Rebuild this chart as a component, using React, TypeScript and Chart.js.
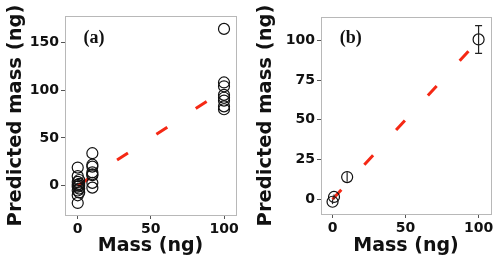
import React, { useEffect, useRef } from "react";
import { Chart, registerables } from "chart.js";

Chart.register(...registerables);

// ---- Data ----
const massA_x: number[] = [0, 0, 1, 0, 1, 0, 1, 0, 1, 0, 1, 0, 0, 10, 10, 10, 10, 10, 10, 10, 10, 100, 100, 100, 100, 100, 100, 100, 100];
const massA_y: number[] = [19, 10, 6, 4, 2, 1, 0, -1, -3, -5, -7, -10, -18, 34, 22, 20, 14, 12, 11, 3, -2, 164, 108, 104, 95, 92, 89, 83, 80];

const massB_x: number[] = [0, 1, 10, 100];
const massB_y: number[] = [-1.5, 1.5, 14, 100.5];
const massB_err: number[] = [1.5, 1.5, 3, 8.7];

const refLine_x: number[] = [0, 100];
const refLine_y: number[] = [0, 100];

const xTicks: number[] = [0, 50, 100];
const yTicksA: number[] = [0, 50, 100, 150];
const yTicksB: number[] = [0, 25, 50, 75, 100];

const panelLabels: string[] = ["(a)", "(b)"];

const TICK_FONT = { family: "'DejaVu Sans', sans-serif", size: 14, weight: "bold" as const };
const TITLE_FONT_X = { family: "'DejaVu Sans', sans-serif", size: 19, weight: "bold" as const };
const TITLE_FONT_Y = { family: "'DejaVu Sans', sans-serif", size: 19.5, weight: "bold" as const };

type PanelCfg = {
  xs: number[];
  ys: number[];
  errs?: number[];
  yTicks: number[];
  xMin: number; xMax: number; yMin: number; yMax: number;
  left: number; right: number; top: number; bottomH: number;
  label: string;
  labelFx: number; labelFy: number;
};

const framePlugin = {
  id: "frameAndExtras",
  afterDatasetsDraw(chart: any, _args: any, opts: any) {
    const { ctx, chartArea, scales } = chart;
    ctx.save();
    // error bars
    if (opts.errs) {
      ctx.strokeStyle = "#222";
      ctx.lineWidth = 1.2;
      const xs: number[] = opts.xs, ys: number[] = opts.ys, es: number[] = opts.errs;
      for (let i = 0; i < xs.length; i++) {
        const px = scales.x.getPixelForValue(xs[i]);
        const p1 = scales.y.getPixelForValue(ys[i] + es[i]);
        const p2 = scales.y.getPixelForValue(ys[i] - es[i]);
        ctx.beginPath();
        ctx.moveTo(px, p1); ctx.lineTo(px, p2);
        if (es[i] > 4) {
          ctx.moveTo(px - 3.5, p1); ctx.lineTo(px + 3.5, p1);
          ctx.moveTo(px - 3.5, p2); ctx.lineTo(px + 3.5, p2);
        }
        ctx.stroke();
      }
    }
    // frame
    ctx.strokeStyle = "#b8b8b8";
    ctx.lineWidth = 1;
    ctx.strokeRect(Math.round(chartArea.left) + 0.5, Math.round(chartArea.top) + 0.5,
      Math.round(chartArea.right - chartArea.left), Math.round(chartArea.bottom - chartArea.top));
    // panel label
    ctx.fillStyle = "#111";
    ctx.font = "bold 18px 'Liberation Serif', 'Times New Roman', serif";
    ctx.textAlign = "center";
    ctx.textBaseline = "middle";
    const lx = chartArea.left + opts.labelFx * (chartArea.right - chartArea.left);
    const ly = chartArea.top + opts.labelFy * (chartArea.bottom - chartArea.top);
    ctx.fillText(opts.label, lx, ly);
    ctx.restore();
  },
};

function Panel({ cfg }: { cfg: PanelCfg }) {
  const ref = useRef<HTMLCanvasElement | null>(null);
  useEffect(() => {
    if (!ref.current) return;
    const chart = new Chart(ref.current, {
      type: "scatter",
      data: {
        datasets: [
          {
            type: "line" as any,
            data: refLine_x.map((x, i) => ({ x, y: refLine_y[i] })),
            borderColor: "rgb(245,40,20)",
            borderWidth: 3,
            borderDash: [13, 34],
            pointRadius: 0,
            fill: false,
            order: 2,
          } as any,
          {
            data: cfg.xs.map((x, i) => ({ x, y: cfg.ys[i] })),
            pointRadius: 5.5,
            pointBorderWidth: 1.2,
            pointBorderColor: "#111",
            pointBackgroundColor: "rgba(0,0,0,0)",
            showLine: false,
            order: 1,
          } as any,
        ],
      },
      options: {
        animation: false,
        responsive: false,
        layout: { padding: { left: 0, right: cfg.right, top: cfg.top, bottom: 0 } },
        plugins: {
          legend: { display: false },
          tooltip: { enabled: false },
          frameAndExtras: {
            errs: cfg.errs, xs: cfg.xs, ys: cfg.ys,
            label: cfg.label, labelFx: cfg.labelFx, labelFy: cfg.labelFy,
          },
        } as any,
        scales: {
          x: {
            type: "linear",
            min: cfg.xMin, max: cfg.xMax,
            afterBuildTicks: (s: any) => { s.ticks = xTicks.map((v) => ({ value: v })); },
            afterFit: (s: any) => { s.height = cfg.bottomH; },
            grid: { drawOnChartArea: false, drawTicks: true, tickLength: 4, color: "#555" },
            border: { display: false },
            ticks: { font: TICK_FONT, color: "#111", padding: 2, maxRotation: 0 },
            title: { display: true, text: "Mass (ng)", font: TITLE_FONT_X, color: "#111", padding: { top: 0, bottom: 6 } },
          },
          y: {
            type: "linear",
            min: cfg.yMin, max: cfg.yMax,
            afterBuildTicks: (s: any) => { s.ticks = cfg.yTicks.map((v) => ({ value: v })); },
            afterFit: (s: any) => { s.width = cfg.left; },
            grid: { drawOnChartArea: false, drawTicks: true, tickLength: 4, color: "#555" },
            border: { display: false },
            ticks: { font: TICK_FONT, color: "#111", padding: 2 },
            title: { display: true, text: "Predicted mass (ng)", font: TITLE_FONT_Y, color: "#111", padding: { top: 4, bottom: 0 } },
          },
        },
      } as any,
      plugins: [framePlugin as any],
    });
    return () => chart.destroy();
  }, [cfg]);
  return <canvas ref={ref} width={250} height={263} style={{ display: "block", width: 250, height: 263 }} />;
}

const cfgA: PanelCfg = {
  xs: massA_x, ys: massA_y, yTicks: yTicksA,
  xMin: -8.7, xMax: 108.2, yMin: -30.6, yMax: 177.5,
  left: 65, right: 14, top: 16, bottomH: 48,
  label: panelLabels[0], labelFx: 0.17, labelFy: 0.11,
};
const cfgB: PanelCfg = {
  xs: massB_x, ys: massB_y, errs: massB_err, yTicks: yTicksB,
  xMin: -7.9, xMax: 108.5, yMin: -9.2, yMax: 114.6,
  left: 71, right: 9, top: 17, bottomH: 49,
  label: panelLabels[1], labelFx: 0.175, labelFy: 0.11,
};

export default function App() {
  useEffect(() => {
    document.body.style.margin = "0";
  }, []);
  return (
    <div style={{ display: "flex", width: 500, height: 263, background: "#fff" }}>
      <Panel cfg={cfgA} />
      <Panel cfg={cfgB} />
    </div>
  );
}
